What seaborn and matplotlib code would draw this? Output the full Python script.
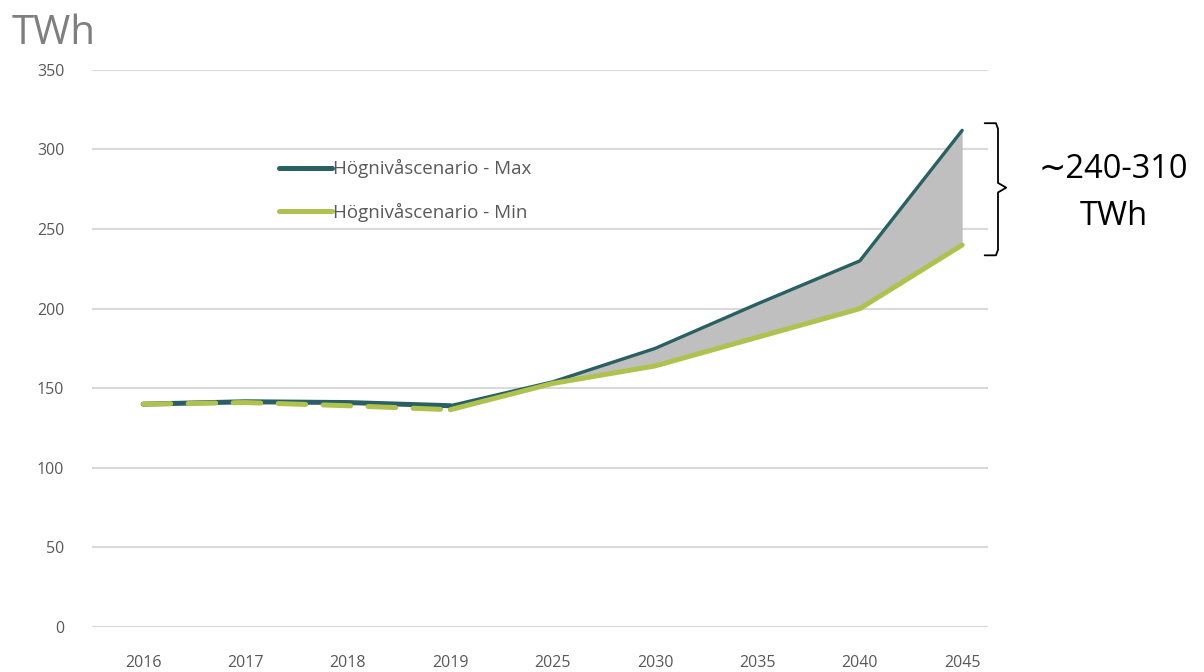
import numpy as np
import pandas as pd
import seaborn as sns
import matplotlib.pyplot as plt

years = ['2016', '2017', '2018', '2019', '2025', '2030', '2035', '2040', '2045']
max_twh = [140, 141.5, 141, 139, 154, 175, 203, 230, 312]
min_twh = [140, 141, 139, 136.5, 153, 164, 182, 200, 240]
n_hist = 4  # 2016-2019 are historical

teal = '#2A6063'
green = '#AFC24F'
gray_txt = '#595959'

sns.set_theme(style='white')
plt.rcParams['font.family'] = ['Open Sans', 'DejaVu Sans']

df = pd.DataFrame({'year': years, 'max': max_twh, 'min': min_twh})
df['x'] = np.arange(len(years))

fig = plt.figure(figsize=(12.04, 6.72), dpi=100)
ax = fig.add_axes([0.0764, 0.067, 0.744, 0.829])

# shaded range between max and min
fut = df.iloc[n_hist:]
ax.fill_between(fut['x'], fut['min'], fut['max'], color='#BFBFBF', lw=0, zorder=1)

sns.lineplot(data=df.iloc[n_hist - 1:], x='x', y='max', ax=ax, color=teal, lw=2.4,
             label='Högnivåscenario - Max', zorder=3, legend=False)
sns.lineplot(data=df.iloc[:n_hist], x='x', y='max', ax=ax, color=teal, lw=3.6,
             zorder=3, legend=False)
sns.lineplot(data=df.iloc[n_hist - 1:], x='x', y='min', ax=ax, color=green, lw=3.6,
             label='Högnivåscenario - Min', zorder=4, legend=False)
sns.lineplot(data=df.iloc[:n_hist], x='x', y='min', ax=ax, color=green, lw=3.6,
             dashes=False, zorder=4, legend=False, linestyle=(0, (5.5, 3.5)))
for l in ax.lines:
    l.set_solid_capstyle('round')
    l.set_dash_capstyle('round')

ax.set_xlim(-0.5, 8.25)
ax.set_ylim(0, 350)
ax.set_yticks(range(0, 351, 50))
ax.set_xticks(df['x'])
ax.set_xticklabels(years)
ax.grid(axis='y', color='#D9D9D9', lw=1.5)
ax.grid(axis='x', visible=False)
sns.despine(ax=ax, left=True, bottom=True, top=True, right=True)
ax.tick_params(axis='both', length=0, labelsize=11.5, colors=gray_txt)
ax.tick_params(axis='x', pad=20)
ax.tick_params(axis='y', pad=20)
ax.set_xlabel('')
ax.set_ylabel('')

handles, labels = ax.get_legend_handles_labels()
leg = ax.legend(handles[:2], labels[:2], loc='upper left', bbox_to_anchor=(0.19, 0.87),
                frameon=False, fontsize=13.5, handlelength=2.8, handletextpad=0.1,
                labelspacing=1.3, labelcolor=gray_txt)
for h in leg.get_lines():
    h.set_linewidth(3.6)

fig.text(0.01, 0.935, 'TWh', fontsize=29, color='#7F7F7F', ha='left')

# brace marking the range in 2045
bx = [8.22, 8.33, 8.35, 8.35, 8.43, 8.35, 8.35, 8.33, 8.22]
by = [316.5, 316.5, 313, 279, 276, 273, 237, 233.5, 233.5]
ax.plot(bx, by, color='black', lw=1.3, clip_on=False)
fig.text(0.925, 0.713, '∼240-310\nTWh', fontsize=23.5, color='black', ha='center',
         va='center', linespacing=1.55)

fig.savefig('out.png', dpi=100)
